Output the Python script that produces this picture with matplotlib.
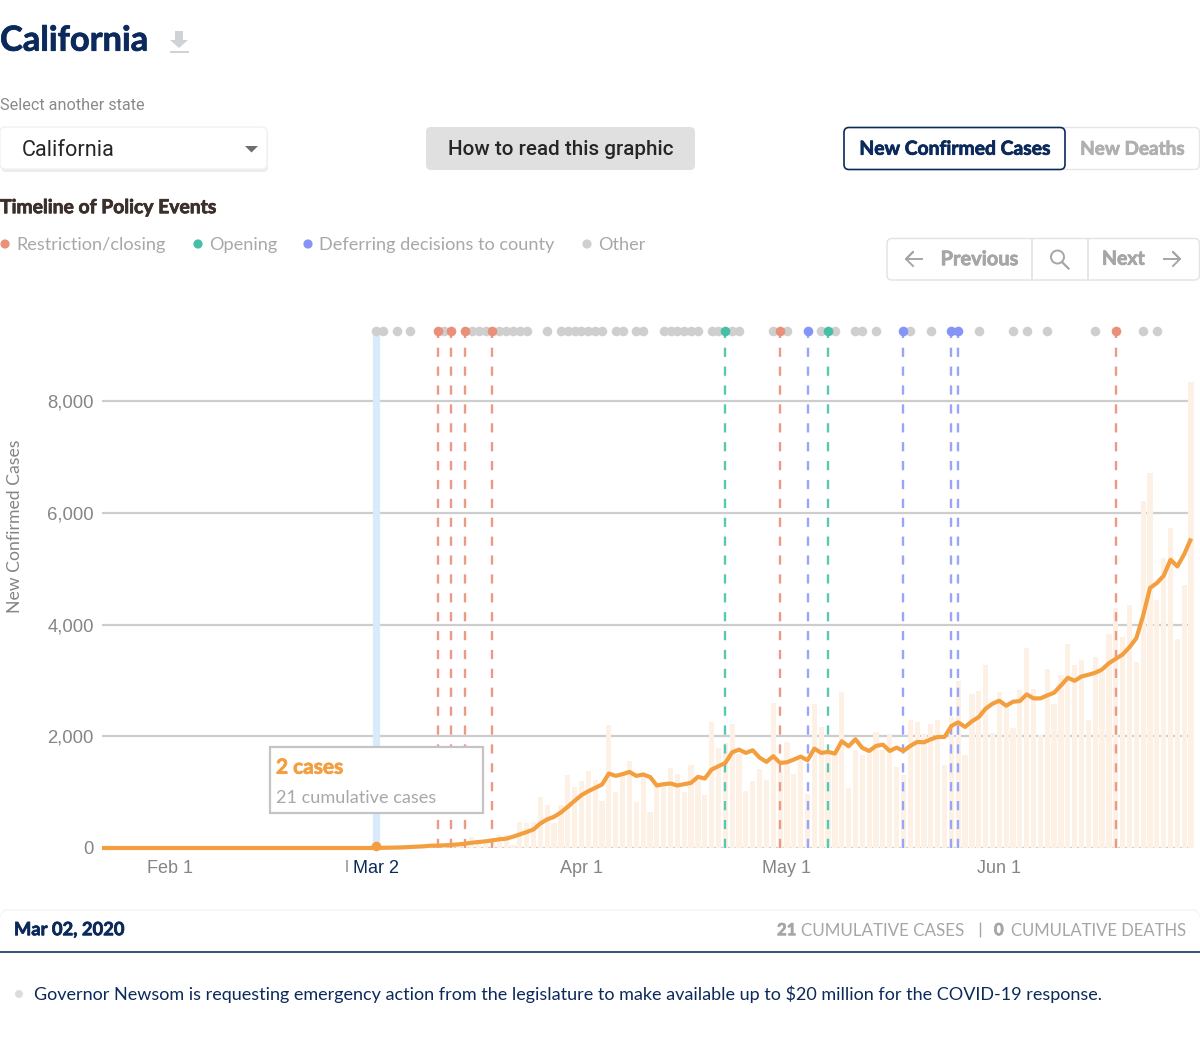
import numpy as np
import pandas as pd
import matplotlib
matplotlib.use("Agg")
import matplotlib.pyplot as plt
import matplotlib.patheffects as pe
from matplotlib.patches import FancyBboxPatch, Rectangle, Circle

# daily new cases, Jan 22 - Jun 29 (the first 40 days are all zero)
new_cases = [0, 0, 0, 0, 0, 0, 0, 0, 0, 0, 0, 0, 0, 0, 0, 0, 0, 0, 0, 0,
             0, 0, 0, 0, 0, 0, 0, 0, 0, 0, 0, 0, 0, 0, 0, 0, 0, 0, 0, 0,
             2, 5, 3, 8, 6, 10, 12, 9, 20, 15, 25, 30, 28, 60, 200, 100, 80, 140, 240, 230,
             60, 470, 440, 470, 916, 767, 450, 767, 1300, 1095, 1200, 1380, 1225, 845, 2207, 994, 1273, 1560, 820, 1362,
             637, 1150, 1150, 1440, 1333, 994, 1493, 1214, 946, 2255, 1790, 1880, 2225, 1690, 1023, 1200, 1420, 1214, 2594, 1362,
             1900, 1333, 1570, 975, 2582, 2166, 1690, 1720, 2790, 1065, 1750, 1660, 1720, 2077, 1750, 2035, 1450, 1300, 2297, 2255,
             2035, 2225, 2297, 1493, 2344, 2987, 1660, 2760, 2808, 3278, 2065, 2785, 2523, 2148, 2820, 3576, 2850, 2017, 3207, 2582,
             3088, 3653, 3284, 3356, 2297, 3427, 3148, 3832, 4290, 3784, 4350, 3326, 6212, 6706, 4445, 5188, 5724, 3743, 4712, 8336]

# 7 day average line
avg_cases = [0, 0, 0, 0, 0, 0, 0, 0, 0, 0, 0, 0, 0, 0, 0, 0, 0, 0, 0, 0,
             0, 0, 0, 0, 0, 0, 0, 0, 0, 0, 0, 0, 0, 0, 0, 0, 0, 0, 0, 0,
             2, 4, 6, 8, 12, 18, 24, 30, 42, 42, 48, 55, 65, 77, 95, 107, 119, 137, 155, 167,
             202, 244, 286, 333, 440, 512, 559, 637, 738, 845, 946, 1017, 1077, 1136, 1333, 1291, 1321, 1362, 1291, 1315,
             1273, 1119, 1142, 1154, 1119, 1142, 1166, 1273, 1244, 1404, 1464, 1523, 1714, 1761, 1702, 1749, 1618, 1541, 1642, 1523,
             1535, 1583, 1636, 1570, 1779, 1702, 1720, 1690, 1910, 1821, 1946, 1791, 1737, 1827, 1850, 1737, 1797, 1737, 1827, 1898,
             1892, 1946, 1987, 1987, 2184, 2249, 2166, 2267, 2344, 2493, 2582, 2636, 2547, 2618, 2630, 2749, 2678, 2678, 2731, 2779,
             2910, 3046, 2993, 3070, 3100, 3136, 3195, 3308, 3386, 3463, 3594, 3754, 4159, 4653, 4742, 4873, 5159, 5040, 5260, 5539]

dates = pd.date_range("2020-01-22", periods=len(new_cases))

restriction_dates = ["2020-03-11", "2020-03-13", "2020-03-15", "2020-03-19", "2020-04-30", "2020-06-18"]
opening_dates = ["2020-04-22", "2020-05-07"]
county_dates = ["2020-05-04", "2020-05-18", "2020-05-25", "2020-05-26"]
other_dates = ["2020-03-02", "2020-03-03", "2020-03-05", "2020-03-07", "2020-03-12", "2020-03-16", "2020-03-17",
               "2020-03-18", "2020-03-20", "2020-03-21", "2020-03-22", "2020-03-23", "2020-03-24", "2020-03-27",
               "2020-03-29", "2020-03-30", "2020-03-31", "2020-04-01", "2020-04-02", "2020-04-03", "2020-04-04",
               "2020-04-06", "2020-04-07", "2020-04-09", "2020-04-10", "2020-04-13", "2020-04-14", "2020-04-15",
               "2020-04-16", "2020-04-17", "2020-04-18", "2020-04-20", "2020-04-21", "2020-04-23", "2020-04-24",
               "2020-04-29", "2020-05-01", "2020-05-06", "2020-05-08", "2020-05-11", "2020-05-12", "2020-05-14",
               "2020-05-19", "2020-05-22", "2020-05-29", "2020-06-03", "2020-06-05", "2020-06-08", "2020-06-15",
               "2020-06-22", "2020-06-24"]
selected_date = "2020-03-02"

y_ticks = [0, 2000, 4000, 6000, 8000]
x_ticks = ["2020-02-01", "2020-03-02", "2020-04-01", "2020-05-01", "2020-06-01"]
x_labels = ["Feb 1", "Mar 2", "Apr 1", "May 1", "Jun 1"]

RED = "#ec9a85"
GREEN = "#5ac8b0"
BLUE = "#98a5f8"
GREY = "#cfcfcf"
ORANGE = "#f49f3f"
NAVY = "#0b2a5b"
BAR = "#fdf1e6"
W, H = 1200, 1037
EVENT_Y = 9250

fig = plt.figure(figsize=(W / 100, H / 100), dpi=100, facecolor="white")

# chart, placed by pixels: 102..1200 across, 320..848 down
ax = fig.add_axes([102 / W, 1 - 848 / H, 1098 / W, 528 / H])
ax.set_xlim(pd.Timestamp("2020-01-22"), pd.Timestamp("2020-01-22") + pd.Timedelta(days=160.3))
ax.set_ylim(0, 9450)
for s in ax.spines.values():
    s.set_visible(False)

t = [pd.Timestamp(d) for d in ["2020-01-22", "2020-06-29"]]
ax.hlines(y_ticks, t[0], t[1], color="#cdcdcd", lw=1.6, zorder=1)
ax.bar(dates, new_cases, width=0.76, color=BAR, zorder=2)

# the selected day band
ax.vlines(pd.Timestamp(selected_date), 0, EVENT_Y, color="#d8eafb", lw=5.2, zorder=1.5)

for group, col in [(restriction_dates, RED), (opening_dates, GREEN), (county_dates, BLUE)]:
    ax.vlines(pd.to_datetime(group), 0, EVENT_Y, color=col, lw=1.7, linestyles=(0, (3.9, 4.1)), zorder=3)

ax.scatter(pd.to_datetime(other_dates), [EVENT_Y] * len(other_dates), s=48, color=GREY, lw=0, zorder=4, clip_on=False)
for group, col in [(restriction_dates, "#ea8f78"), (opening_dates, "#45bfa5"), (county_dates, "#8494f7")]:
    ax.scatter(pd.to_datetime(group), [EVENT_Y] * len(group), s=48, color=col, lw=0, zorder=5)

ax.plot(dates, avg_cases, color=ORANGE, lw=3.0, zorder=6, solid_joinstyle="round", solid_capstyle="butt", clip_on=False)
ax.scatter([pd.Timestamp(selected_date)], [30], s=48, color=ORANGE, lw=0, zorder=7, clip_on=False)

ax.set_yticks(y_ticks)
ax.set_yticklabels([f"{v:,}" for v in y_ticks], fontfamily="Liberation Sans", fontsize=13.3, color="#858585")
ax.set_xticks(pd.to_datetime(x_ticks))
ax.set_xticklabels(x_labels, fontfamily="Liberation Sans", fontsize=13, color="#858585")
ax.get_xticklabels()[1].set_color(NAVY)
ax.tick_params(length=0)
ax.tick_params(axis="y", pad=6)
ax.tick_params(axis="x", pad=8.3)

# page furniture on top, in pixel coordinates
ui = fig.add_axes([0, 0, 1, 1], zorder=10)
ui.set_xlim(0, W)
ui.set_ylim(H, 0)
ui.axis("off")
ui.patch.set_alpha(0)


def label(x, y, s, size, col, weight="normal", ha="left", family="Lato"):
    return ui.text(x, y + 1.2, s, fontsize=size, color=col, fontweight=weight, ha=ha, va="center", family=family)


def heavy(x, y, s, size, col, ha="left"):
    # Lato bold is lighter than the original face, so fatten it a little
    txt = label(x, y, s, size, col, "bold", ha)
    txt.set_path_effects([pe.withStroke(linewidth=0.55, foreground=col)])
    return txt


def box(x0, y0, x1, y1, face="white", edge="#e6e6e6", lw=1.0, r=5):
    ui.add_patch(FancyBboxPatch((x0 + r, y0 + r), x1 - x0 - 2 * r, y1 - y0 - 2 * r,
                                boxstyle=f"round,pad={r},rounding_size={r}", fc=face, ec=edge, lw=lw))


heavy(0, 39.5, "California", 24.8, NAVY)
# download icon
ui.fill([175, 183, 183, 188, 179, 170, 175], [31, 31, 40, 40, 48, 40, 40], color="#cfd3d8", lw=0)
ui.add_patch(Rectangle((169.5, 51), 19, 2.2, color="#cfd3d8", lw=0))

label(0, 104, "Select another state", 11.7, "#8a8a8a", family="Roboto")

# dropdown with a soft shadow
box(1, 130, 268, 172, face="#ececec", edge="none")
box(0, 127, 267, 169, edge="#f1f1f1")
label(22, 149, "California", 15.6, "#262626", family="Roboto")
ui.fill([245, 258, 251.5], [146, 146, 152.5], color="#6e6e6e", lw=0)

box(426, 127, 695, 170, face="#e0e0e0", edge="none")
label(560.5, 148.5, "How to read this graphic", 14.85, "#262626", "medium", ha="center", family="Roboto")

box(1060, 127.5, 1199.5, 169.5, edge="#e6e6e6")
box(844, 127.5, 1065, 169.5, edge=NAVY, lw=1.2)
heavy(954.5, 148, "New Confirmed Cases", 13.9, NAVY, ha="center")
heavy(1132.5, 148, "New Deaths", 13.6, "#b0b0b0", ha="center")

heavy(0, 206.5, "Timeline of Policy Events", 13.9, "#3a2f2a")

legend_x = [5, 198, 308, 587]
legend_text = ["Restriction/closing", "Opening", "Deferring decisions to county", "Other"]
legend_col = ["#ea8f78", "#45bfa5", "#8494f7", GREY]
for x, s, c in zip(legend_x, legend_text, legend_col):
    ui.add_patch(Circle((x, 244), 4.6, color=c, lw=0))
    label(x + 11.2, 244, s, 13.1, "#a8a8a8")

# previous / search / next
box(887, 238.5, 1199.5, 280, edge="#e2e2e2")
ui.vlines([1032, 1087.5], 238.5, 280, color="#e2e2e2", lw=1.2)
heavy(979.5, 258, "Previous", 14.4, "#a6a6a6", ha="center")
heavy(1123.5, 258, "Next", 14, "#a6a6a6", ha="center")
ui.plot([922, 906, 913, 906, 913], [259, 259, 252, 259, 266], color="#a6a6a6", lw=1.4)
ui.plot([1164, 1180, 1173, 1180, 1173], [259, 259, 252, 259, 266], color="#a6a6a6", lw=1.4)
ui.add_patch(Circle((1057.5, 257), 6.5, fc="none", ec="#a6a6a6", lw=1.4))
ui.plot([1062, 1068.5], [262, 268.5], color="#a6a6a6", lw=1.6)

ylab = label(15.5, 525, "New Confirmed Cases", 12.7, "#858585")
ylab.set_rotation(90)
ylab.set_ha("center")

ui.vlines(347, 860, 872, color="#9a9a9a", lw=1.2)

# tooltip
ui.add_patch(Rectangle((270, 747), 213, 66, fc="white", ec="#c4c4c4", lw=1.6))
heavy(276, 766.5, "2 cases", 15, ORANGE)
label(276, 797, "21 cumulative cases", 13.1, "#a8a8a8")

# bottom panel
ui.plot([0, 4, 1196, 1200], [916, 910, 910, 916], color="#f4f4f4", lw=1)
ui.hlines(952, 0, W, color="#24426e", lw=1.3)
heavy(14, 928.5, "Mar 02, 2020", 13.2, NAVY)
heavy(777, 929, "21", 12, "#a6a6a6")
label(801, 929.5, "CUMULATIVE CASES", 12.25, "#a6a6a6")
ui.vlines(980, 922, 937, color="#a6a6a6", lw=1)
heavy(994, 929, "0", 12, "#a6a6a6")
label(1186, 929.5, "CUMULATIVE DEATHS", 12, "#a6a6a6", ha="right")
ui.add_patch(Circle((19, 994), 4, color="#dcdcdc", lw=0))
label(33.5, 993.5, "Governor Newsom is requesting emergency action from the legislature to make available up to $20 million for the COVID-19 response.", 12.95, NAVY)

fig.savefig("out.png", dpi=100)
